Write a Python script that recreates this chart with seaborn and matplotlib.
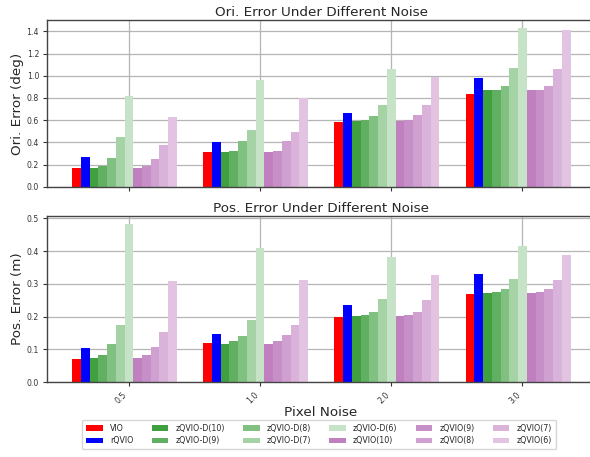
import numpy as np
import pandas as pd
import matplotlib
matplotlib.use("Agg")
import matplotlib.pyplot as plt
import seaborn as sns

noise_levels = ["0.5", "1.0", "2.0", "3.0"]
methods = ["VIO", "rQVIO", "zQVIO-D(10)", "zQVIO-D(9)", "zQVIO-D(8)", "zQVIO-D(7)",
           "zQVIO-D(6)", "zQVIO(10)", "zQVIO(9)", "zQVIO(8)", "zQVIO(7)", "zQVIO(6)"]

# orientation error (deg), one list per method, values per noise level
ori_err = {
    "VIO":         [0.17, 0.31, 0.58, 0.84],
    "rQVIO":       [0.27, 0.40, 0.66, 0.98],
    "zQVIO-D(10)": [0.17, 0.31, 0.59, 0.87],
    "zQVIO-D(9)":  [0.19, 0.32, 0.60, 0.87],
    "zQVIO-D(8)":  [0.26, 0.41, 0.64, 0.91],
    "zQVIO-D(7)":  [0.45, 0.51, 0.74, 1.07],
    "zQVIO-D(6)":  [0.82, 0.96, 1.06, 1.43],
    "zQVIO(10)":   [0.17, 0.31, 0.59, 0.87],
    "zQVIO(9)":    [0.19, 0.32, 0.60, 0.87],
    "zQVIO(8)":    [0.25, 0.41, 0.645, 0.91],
    "zQVIO(7)":    [0.38, 0.49, 0.735, 1.06],
    "zQVIO(6)":    [0.63, 0.80, 0.99, 1.41],
}
# position error (m)
pos_err = {
    "VIO":         [0.071, 0.119, 0.199, 0.270],
    "rQVIO":       [0.105, 0.148, 0.235, 0.329],
    "zQVIO-D(10)": [0.075, 0.117, 0.201, 0.273],
    "zQVIO-D(9)":  [0.084, 0.125, 0.205, 0.275],
    "zQVIO-D(8)":  [0.117, 0.142, 0.213, 0.283],
    "zQVIO-D(7)":  [0.176, 0.189, 0.254, 0.315],
    "zQVIO-D(6)":  [0.484, 0.408, 0.381, 0.417],
    "zQVIO(10)":   [0.075, 0.118, 0.201, 0.272],
    "zQVIO(9)":    [0.084, 0.125, 0.205, 0.276],
    "zQVIO(8)":    [0.108, 0.143, 0.213, 0.283],
    "zQVIO(7)":    [0.153, 0.176, 0.251, 0.312],
    "zQVIO(6)":    [0.309, 0.311, 0.327, 0.389],
}

def blend(rgb, a):
    r, g, b = matplotlib.colors.to_rgb(rgb)
    return (1 - a + a * r, 1 - a + a * g, 1 - a + a * b)

colors = ["#ff0000", "#0000ff",
          blend("green", 0.75), blend("green", 0.62), blend("green", 0.50),
          blend("green", 0.35), blend("green", 0.22),
          blend("purple", 0.50), blend("purple", 0.44), blend("purple", 0.37),
          blend("purple", 0.30), blend("purple", 0.23)]
palette = dict(zip(methods, colors))

rows = []
for m in methods:
    for i, n in enumerate(noise_levels):
        rows.append({"noise": n, "method": m, "ori": ori_err[m][i], "pos": pos_err[m][i]})
df = pd.DataFrame(rows)

sns.set_style("whitegrid", {"axes.edgecolor": "#444444", "grid.color": "#b5b5b5",
                            "xtick.bottom": True, "ytick.left": True,
                            "xtick.color": "#333333", "ytick.color": "#333333"})
plt.rcParams['font.family'] = ['DejaVu Sans']

TICK_FS = 5.6
LABEL_FS = 9.7

fig = plt.figure(figsize=(5.9, 4.57), dpi=100)
ax1 = fig.add_axes([0.0792, 0.5915, 0.93, 0.3645])
ax2 = fig.add_axes([0.0792, 0.1635, 0.93, 0.3645])

for ax, col in ((ax1, "ori"), (ax2, "pos")):
    sns.barplot(data=df, x="noise", y=col, hue="method", hue_order=methods,
                order=noise_levels, palette=palette, saturation=1, width=0.8,
                linewidth=0, errorbar=None, ax=ax, legend=(ax is ax2))
    ax.set_axisbelow(True)
    ax.grid(True, color="#b5b5b5", linewidth=0.9)
    for s in ax.spines.values():
        s.set_color("#444444")
        s.set_linewidth(1.0)
    w = 0.8 / len(methods)
    ax.set_xticks([i + w / 2 for i in range(len(noise_levels))])
    ax.set_xlim(-0.593, 3.59)
    ax.tick_params(axis="both", labelsize=TICK_FS, length=3, width=0.8,
                   color="#333333", pad=2.5)

ax1.set_ylim(0, 1.502)
ax1.set_yticks([0.0, 0.2, 0.4, 0.6, 0.8, 1.0, 1.2, 1.4])
ax1.set_xticklabels([])
ax1.set_xlabel("")
ax1.set_ylabel("Ori. Error (deg)", fontsize=LABEL_FS, labelpad=2)
ax1.set_title("Ori. Error Under Different Noise", fontsize=LABEL_FS, pad=3)

ax2.set_ylim(0, 0.508)
ax2.set_yticks([0.0, 0.1, 0.2, 0.3, 0.4, 0.5])
ax2.set_xticklabels(noise_levels, rotation=45, ha="right", fontsize=TICK_FS)
ax2.set_xlabel("Pixel Noise", fontsize=LABEL_FS, labelpad=1)
ax2.set_ylabel("Pos. Error (m)", fontsize=LABEL_FS, labelpad=2)
ax2.set_title("Pos. Error Under Different Noise", fontsize=LABEL_FS, pad=3)

handles, labels = ax2.get_legend_handles_labels()
ax2.get_legend().remove()
fig.legend(handles, labels, ncol=6, loc="lower center", bbox_to_anchor=(0.5407, 0.008),
           fontsize=5.7, frameon=True, handlelength=2.1, columnspacing=2.3,
           handletextpad=0.9, borderpad=0.5, labelspacing=0.45, edgecolor="#cccccc")

fig.savefig("out.png", dpi=100)
